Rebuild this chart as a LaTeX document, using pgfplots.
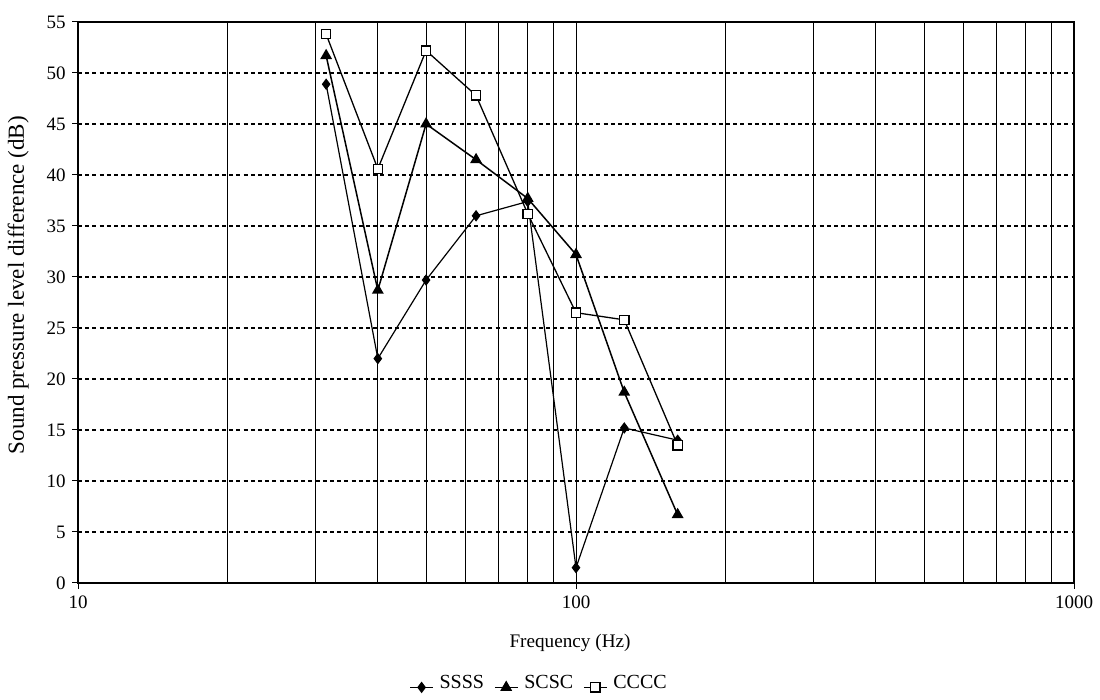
\documentclass[border=0pt]{standalone}
\usepackage{fontspec}
\setmainfont{Liberation Serif}
\usepackage{pgfplots}
\pgfplotsset{compat=1.18}
\begin{document}
\fontsize{9}{11}\selectfont
\begin{tikzpicture}
\begin{axis}[
  at={(0,0)}, anchor=south west,
  scale only axis, width=498pt, height=280.5pt,
  xmode=log, xmin=10, xmax=1000, ymin=0, ymax=55,
  ytick={0,5,...,55},
  xtick={10,100,1000}, xticklabels={10,100,1000},
  /pgf/number format/assume math mode=true,
  xmajorgrids, xminorgrids, ymajorgrids,
  minor x grid style={black, line width=0.5pt},
  major x grid style={black, line width=0.5pt},
  major y grid style={black, line width=0.75pt, dash pattern=on 2pt off 1.6pt},
  tick align=outside, ytick pos=left, xtick pos=bottom,
  major tick length=3pt, minor tick length=0pt,
  tick style={black, line width=0.5pt},
  axis line style={black, line width=0.6pt},
  tick label style={font=\fontsize{9.5}{11}\selectfont},
  xlabel={Frequency (Hz)},
  ylabel={Sound pressure level difference (dB)},
  xlabel style={font=\fontsize{9.6}{11}\selectfont, at={(axis description cs:0.494,-0.107)}, anchor=center},
  ylabel style={font=\fontsize{11.5}{13}\selectfont, at={(axis description cs:-0.060,0.531)}, anchor=center},
  legend style={at={(axis description cs:0.464,-0.178)}, anchor=center, draw=none, fill=none,
    legend columns=-1, font=\fontsize{10}{12}\selectfont, inner sep=0pt,
    /tikz/every odd column/.append style={column sep=1pt},
    /tikz/every even column/.append style={column sep=3pt}},
  legend image code/.code={
    \draw[mark repeat=2, mark phase=2, #1] plot coordinates {(0cm,-0.08cm) (0.2cm,-0.08cm) (0.4cm,-0.08cm)};
  },
]
\addplot[black, line width=0.6pt, mark=diamond*, mark size=2.4pt, mark options={solid, fill=black}] coordinates {
(31.5,48.9) (40,22.0) (50,29.7) (63,36.0) (80,37.4) (100,1.5) (125,15.2) (160,14.0)};
\addlegendentry{SSSS}
\addplot[black, line width=0.75pt, mark=triangle*, mark size=2.7pt, mark options={solid, fill=black}] coordinates {
(31.5,51.7) (40,28.7) (50,45.0) (63,41.5) (80,37.7) (100,32.2) (125,18.7) (160,6.7)};
\addlegendentry{SCSC}
\addplot[black, line width=0.65pt, mark=square*, mark size=2.3pt, mark options={solid, fill=white}] coordinates {
(31.5,53.8) (40,40.6) (50,52.2) (63,47.8) (80,36.2) (100,26.5) (125,25.8) (160,13.5)};
\addlegendentry{CCCC}
\end{axis}
\pgfresetboundingbox
\path[use as bounding box] (-39pt,-58.5pt) rectangle (511pt,291.5pt);
\end{tikzpicture}
\end{document}
